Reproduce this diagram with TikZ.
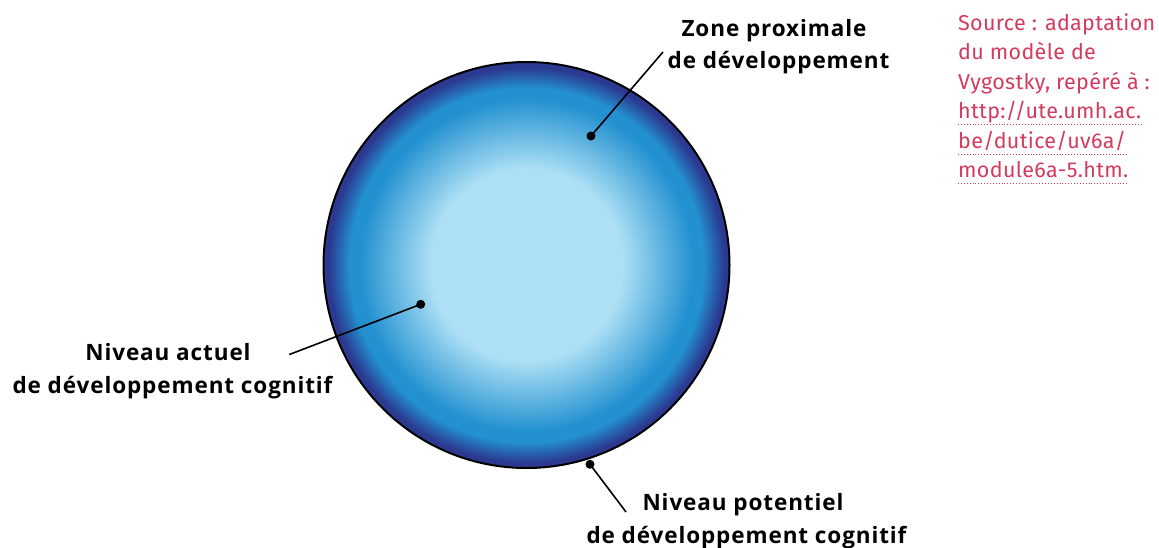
\documentclass[tikz,border=0pt]{standalone}
\usepackage{fontspec}
\setmainfont{Open Sans}
\newfontfamily\srcfont{Fira Sans}
\definecolor{lightb}{HTML}{ADE0F5}
\definecolor{midb}{HTML}{2391D0}
\definecolor{navyb}{HTML}{2B3990}
\definecolor{srcred}{HTML}{D43A5E}
\pgfdeclareradialshading{vyg}{\pgfpoint{0bp}{0bp}}{color(0bp)=(lightb); color(11.8bp)=(lightb); color(20.5bp)=(midb); color(21.8bp)=(midb); color(24.4bp)=(navyb); color(25bp)=(navyb); color(50bp)=(navyb)}
\begin{document}
\begin{tikzpicture}[x=1pt,y=-1pt,
  lbl/.style={anchor=base, inner sep=0pt, font=\fontsize{22.5}{27}\selectfont\bfseries\addfontfeature{LetterSpace=4}},
  src/.style={anchor=base west, inner sep=0pt, text=srcred, font=\srcfont\fontsize{21.5}{25}\selectfont\addfontfeature{LetterSpace=1.5}},
  dot/.style={circle, fill=black, inner sep=0pt, minimum size=9pt},
  conn/.style={draw=black, line width=1.6pt},
  under/.style={draw=srcred, dotted, line width=0.9pt}]
\useasboundingbox (0,0) rectangle (1159,547);
% circle
\coordinate (c) at (526.5,265);
\shade[shading=vyg] (c) circle[radius=203pt];
\draw[line width=2pt] (c) circle[radius=203pt];
% dots
\node[dot] (dz) at (591,136) {};
\node[dot] (da) at (420.7,304.3) {};
\node[dot] (dp) at (590,464.3) {};
\coordinate (ez) at (663,52);
\coordinate (ea) at (289.3,354.5);
\coordinate (ep) at (626,512);
\draw[conn] (dz.center) -- (ez);
\draw[conn] (da.center) -- (ea);
\draw[conn] (dp.center) -- (ep);
% labels
\node[lbl] (z1) at (774,36) {Zone proximale};
\node[lbl] (z2) at (778.5,68.5) {de développement};
\node[lbl] (a1) at (168,360.5) {Niveau actuel};
\node[lbl] (a2) at (172.5,393) {de développement cognitif};
\node[lbl] (p1) at (743,510) {Niveau potentiel};
\node[lbl] (p2) at (746.5,543) {de développement cognitif};
% source
\node[src] (s1) at (958,30) {Source : adaptation};
\node[src] (s2) at (958,59.5) {du modèle de};
\node[src] (s3) at (958,89) {Vygostky, repéré à :};
\node[src] (s4) at (958,118.5) {http://ute.umh.ac.};
\node[src] (s5) at (958,148) {be/dutice/uv6a/};
\node[src] (s6) at (958,177.5) {module6a-5.htm.};
\draw[under] ([yshift=-6pt]s4.base west) -- ([yshift=-6pt]s4.base east);
\draw[under] ([yshift=-6pt]s5.base west) -- ([yshift=-6pt]s5.base east);
\draw[under] ([yshift=-6pt]s6.base west) -- ([yshift=-6pt]s6.base east);
\end{tikzpicture}
\end{document}
